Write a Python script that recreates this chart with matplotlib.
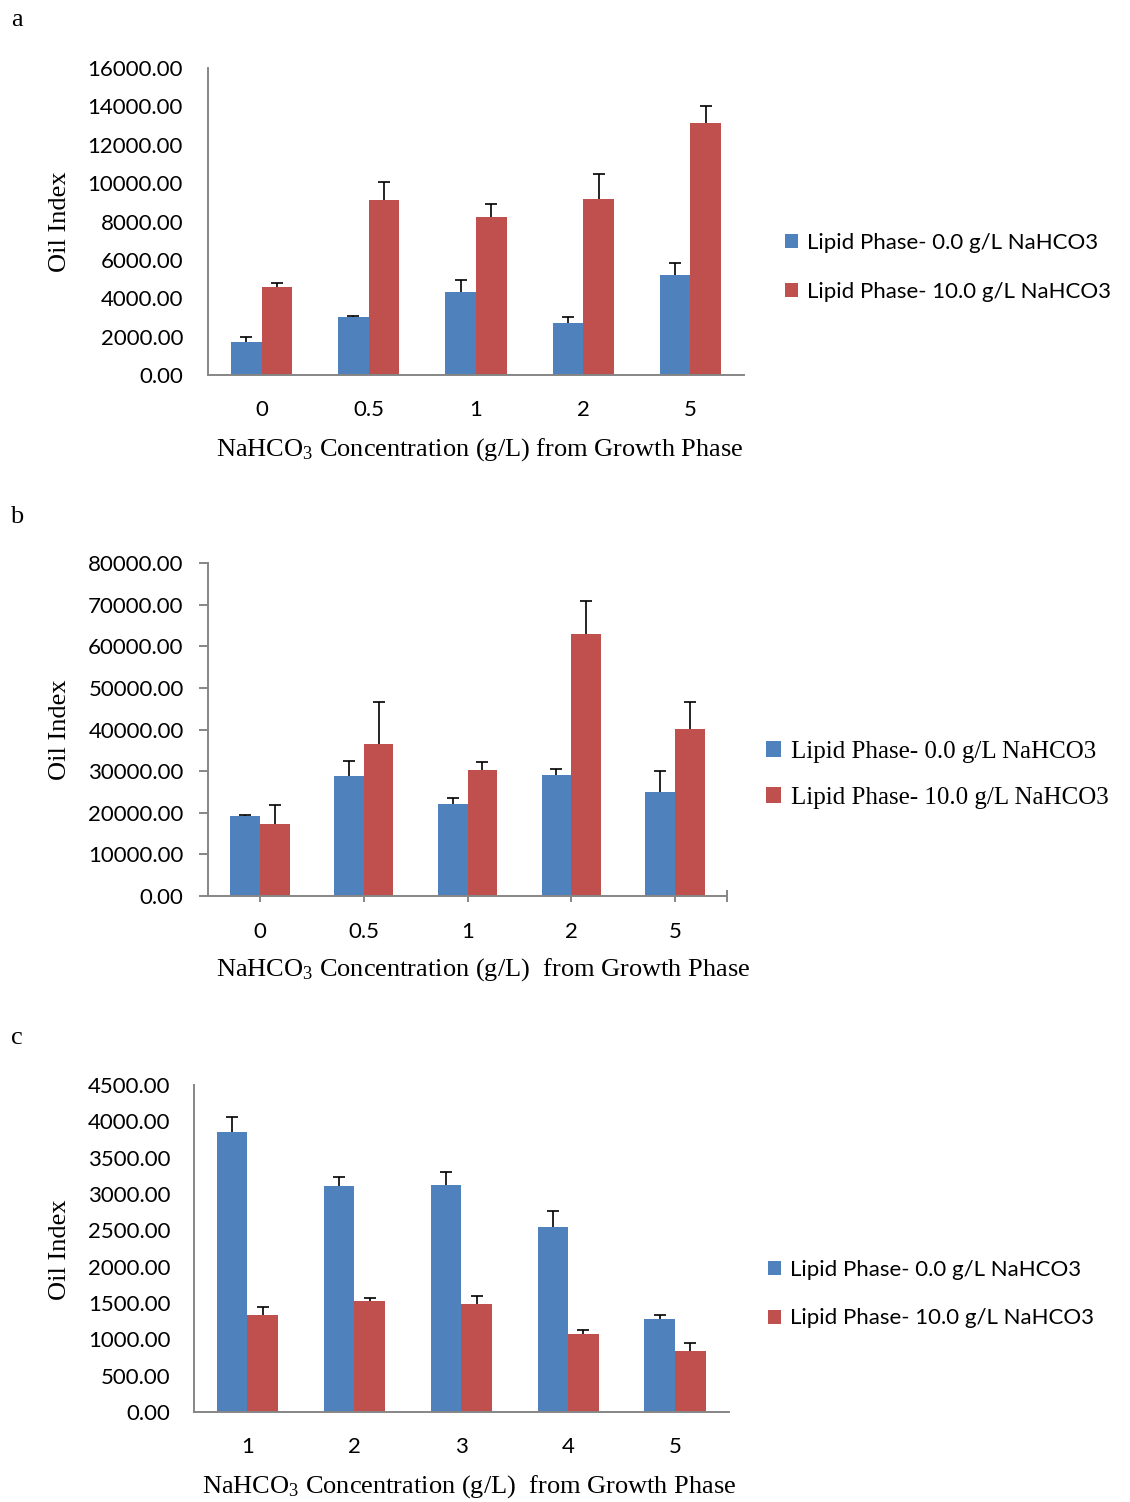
import numpy as np
import matplotlib
matplotlib.use("Agg")
import matplotlib.pyplot as plt

# ---- data -------------------------------------------------------------
conc_ab = ["0", "0.5", "1", "2", "5"]
conc_c = ["1", "2", "3", "4", "5"]

a_low = [1720, 3010, 4330, 2730, 5200]
a_low_err = [280, 80, 610, 280, 650]
a_high = [4570, 9120, 8230, 9190, 13130]
a_high_err = [240, 940, 690, 1270, 890]

b_low = [19260, 28900, 22150, 28980, 24900]
b_low_err = [170, 3600, 1350, 1620, 5100]
b_high = [17260, 36400, 30260, 62840, 40100]
b_high_err = [4500, 10300, 1940, 8110, 6600]

c_low = [3849, 3115, 3120, 2552, 1283]
c_low_err = [215, 116, 183, 215, 45]
c_high = [1338, 1530, 1493, 1072, 843]
c_high_err = [105, 37, 106, 50, 100]

y_max = [16000, 80000, 4500]
y_step = [2000, 10000, 500]

legend_labels = ["Lipid Phase- 0.0 g/L NaHCO3", "Lipid Phase- 10.0 g/L NaHCO3"]
ylabel = "Oil Index"
xlabel_a = r"NaHCO$_3$ Concentration (g/L) from Growth Phase"
xlabel_bc = r"NaHCO$_3$ Concentration (g/L)  from Growth Phase"

# ---- style ------------------------------------------------------------
BLUE = "#4F81BD"
RED = "#C0504D"
GREY = "#868686"
SANS = "Lato"
SERIF = "Liberation Serif"

plt.rcParams["mathtext.fontset"] = "custom"
plt.rcParams["mathtext.rm"] = SERIF
plt.rcParams["mathtext.it"] = SERIF + ":italic"
plt.rcParams["mathtext.bf"] = SERIF + ":bold"

W, H = 1130, 1502
fig = plt.figure(figsize=(W / 100, H / 100), dpi=100)


def rect(left, right, top, bottom):
    return [left / W, 1 - bottom / H, (right - left) / W, (bottom - top) / H]


def panel(box, cats, low, low_err, high, high_err, ymax, ystep, xlabel,
          xlabel_center, ylabel_center, legend_pos, legend_font, legend_size,
          legend_spacing, ticks, ytick_pad):
    ax = fig.add_axes(rect(*box))
    left, right, top, bottom = box
    x = np.arange(len(cats))
    w = 0.286
    # error bars sit behind the bars, so only the upper whisker shows
    ax.errorbar(x - w / 2, low, yerr=low_err, fmt="none", ecolor="black",
                elinewidth=1.2, capsize=4, capthick=1.2, zorder=1)
    ax.errorbar(x + w / 2, high, yerr=high_err, fmt="none", ecolor="black",
                elinewidth=1.2, capsize=4, capthick=1.2, zorder=1)
    b1 = ax.bar(x - w / 2, low, w, color=BLUE, zorder=2)
    b2 = ax.bar(x + w / 2, high, w, color=RED, zorder=2)

    ax.set_xlim(-0.5, len(cats) - 0.5)
    ax.set_ylim(0, ymax)
    yt = np.arange(0, ymax + ystep / 2, ystep)
    ax.set_yticks(yt)
    ax.set_yticklabels([f"{v:.2f}" for v in yt], family=SANS, fontsize=16)
    ax.set_xticks(x)
    ax.set_xticklabels(cats, family=SANS, fontsize=16)

    for s in ("top", "right"):
        ax.spines[s].set_visible(False)
    for s in ("left", "bottom"):
        ax.spines[s].set_color(GREY)
        ax.spines[s].set_linewidth(1.4)
        ax.spines[s].set_zorder(3)

    if ticks:
        ax.tick_params(axis="y", length=6.5, width=1.4, color=GREY, pad=ytick_pad)
        ax.tick_params(axis="x", length=4.5, width=1.4, color=GREY, pad=14)
        ax.set_xticks([len(cats) - 0.5], minor=True)
        ax.tick_params(axis="x", which="minor", direction="inout", length=9,
                       width=1.4, color=GREY)
    else:
        ax.tick_params(axis="y", length=0, pad=ytick_pad)
        ax.tick_params(axis="x", length=0, pad=18)

    ax.set_xlabel(xlabel, family=SERIF, fontsize=19)
    ax.xaxis.set_label_coords((xlabel_center[0] - left) / (right - left),
                              (bottom - xlabel_center[1]) / (bottom - top))
    ax.xaxis.label.set_va("center")
    ax.set_ylabel(ylabel, family=SERIF, fontsize=19)
    ax.yaxis.set_label_coords((ylabel_center[0] - left) / (right - left),
                              (bottom - ylabel_center[1]) / (bottom - top))
    ax.yaxis.label.set_va("center")

    ax.legend([b1, b2], legend_labels, loc="center left",
              bbox_to_anchor=(legend_pos[0] / W, 1 - legend_pos[1] / H),
              bbox_transform=fig.transFigure, frameon=False,
              prop={"family": legend_font, "size": legend_size},
              handlelength=0.6, handleheight=0.6, handletextpad=0.4,
              labelspacing=legend_spacing, borderpad=0, borderaxespad=0)
    return ax


panel((208, 744, 68, 375), conc_ab, a_low, a_low_err, a_high, a_high_err,
      y_max[0], y_step[0], xlabel_a, (480, 450), (60, 222), (785, 267.5),
      SANS, 16, 1.3, False, 18)
panel((208, 727, 563, 896), conc_ab, b_low, b_low_err, b_high, b_high_err,
      y_max[1], y_step[1], xlabel_bc, (483, 970), (60, 730), (766, 775),
      SERIF, 18, 0.95, True, 11)
panel((194, 728.5, 1085, 1412), conc_c, c_low, c_low_err, c_high, c_high_err,
      y_max[2], y_step[2], xlabel_bc, (469.5, 1487), (60, 1250), (768, 1294),
      SANS, 16, 1.3, False, 17)

for letter, (px, py) in zip("abc", [(17, 20), (17, 517), (17, 1038)]):
    fig.text(px / W, 1 - py / H, letter, family=SERIF, fontsize=19,
             ha="center", va="center")

fig.savefig("out.png", dpi=100)
